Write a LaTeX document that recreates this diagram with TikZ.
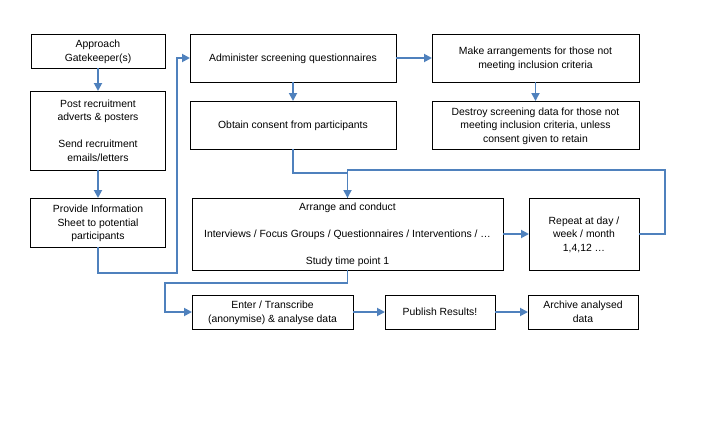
\documentclass[tikz,border=0pt]{standalone}
\usepackage{fontspec}
\setmainfont{Liberation Sans}
\usetikzlibrary{arrows.meta}
\definecolor{arrowblue}{RGB}{79,129,189}
\begin{document}
\begin{tikzpicture}[x=1pt,y=-1pt,
  box/.style={draw=black,line width=1pt,align=center,inner sep=0pt,outer sep=0pt,text depth=0pt,
    font=\fontsize{10.4}{13.6}\selectfont},
  conn/.style={draw=arrowblue,line width=1.8pt,-{Triangle[length=8pt,width=8pt]}},
  wire/.style={draw=arrowblue,line width=1.8pt}]
\useasboundingbox (0,0) rectangle (720,423);
\node[box,minimum width=134pt,minimum height=34pt] (A) at (98,51) {Approach\\Gatekeeper(s)};
\node[box,minimum width=135pt,minimum height=79pt] (B) at (98,130.5) {Post recruitment\\adverts \& posters\\[13.6pt]Send recruitment\\emails/letters};
\node[box,minimum width=135pt,minimum height=49pt] (C) at (98,222.5) {Provide Information\\Sheet to potential\\participants};
\node[box,minimum width=206pt,minimum height=48pt] (D) at (293,58) {Administer screening questionnaires};
\node[box,minimum width=207pt,minimum height=48pt] (E) at (535.5,58) {Make arrangements for those not\\meeting inclusion criteria};
\node[box,minimum width=206pt,minimum height=48pt] (F) at (293,125) {Obtain consent from participants};
\node[box,minimum width=207pt,minimum height=48pt] (G) at (535.5,125) {Destroy screening data for those not\\meeting inclusion criteria, unless\\consent given to retain};
\node[box,minimum width=311pt,minimum height=72pt] (H) at (347.5,234) {Arrange and conduct\\[13.6pt]Interviews / Focus Groups / Questionnaires / Interventions / \dots\\[13.6pt]Study time point 1};
\node[box,minimum width=110pt,minimum height=72pt] (I) at (584,234) {Repeat at day /\\week / month\\1,4,12 \dots};
\node[box,minimum width=161pt,minimum height=34pt] (J) at (272.5,312) {Enter / Transcribe\\(anonymise) \& analyse data};
\node[box,minimum width=110pt,minimum height=34pt] (K) at (440,312) {Publish Results!};
\node[box,minimum width=110pt,minimum height=34pt] (L) at (583,312) {Archive analysed\\data};
\coordinate (c1) at (98,273);
\coordinate (c2) at (177,273);
\coordinate (f1) at (293,173);
\coordinate (r1) at (665,234);
\coordinate (r2) at (347.5,170);
\coordinate (h1) at (347.5,283);
\coordinate (h2) at (165,283);
\draw[conn] (A) -- (B);
\draw[conn] (B) -- (C);
\draw[conn] (C.south) -- (c1) -- (c2) |- (D.west);
\draw[conn] (D) -- (E);
\draw[conn] (D) -- (F);
\draw[conn] (E) -- (G);
\draw[conn] (F.south) -- (f1) -| (H.north);
\draw[wire] (I.east) -- (r1) |- (r2) -- (H.north);
\draw[conn] (H.east) -- (I.west);
\draw[conn] (H.south) -- (h1) -- (h2) |- (J.west);
\draw[conn] (J) -- (K);
\draw[conn] (K) -- (L);
\end{tikzpicture}
\end{document}
